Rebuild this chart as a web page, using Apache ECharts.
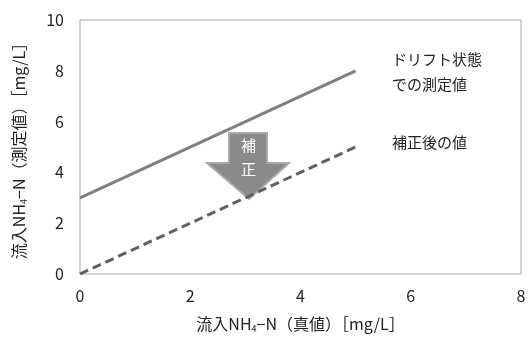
<!DOCTYPE html>
<html><head><meta charset="utf-8">
<script src="https://cdn.jsdelivr.net/npm/echarts@6/dist/echarts.min.js"></script>
<style>html,body{margin:0;padding:0;background:#fff}#c{width:530px;height:338px}</style>
</head><body><div id="c"></div>
<script>
var xTrue = [0, 5];
var measured = [3, 8];
var corrected = [0, 5];
var xTicks = [0, 2, 4, 6, 8];
var yTicks = [0, 2, 4, 6, 8, 10];
var labelDrift = ['ドリフト状態', 'での測定値'];
var labelCorr = '補正後の値';
var arrowText = ['補', '正'];

var F = '"Noto Sans CJK JP", "Noto Sans", sans-serif';
var chart = echarts.init(document.getElementById('c'));
function pairs(xs, ys){ return xs.map(function(x,i){return [x, ys[i]];}); }
var nameRich = {a: {fontSize: 16, color: '#222', fontFamily: F}, s: {fontSize: 9, color: '#222', fontFamily: F, padding: [9,0,0,0]}};
chart.setOption({
  animation: false,
  grid: {left: 80, right: 9, top: 20, bottom: 59, show: true, borderColor: '#a6a6a6', borderWidth: 1},
  xAxis: {type: 'value', min: 0, max: 8, interval: 2,
    axisLine: {show: false}, axisTick: {show: false}, splitLine: {show: false},
    axisLabel: {color: '#222', fontSize: 16, fontFamily: F, margin: 14},
    name: '{a|流入NH}{s|4}{a|−N（真値）［mg/L］}', nameLocation: 'middle', nameGap: 41,
    nameTextStyle: {rich: nameRich}
  },
  yAxis: {type: 'value', min: 0, max: 10, interval: 2,
    axisLine: {show: false}, axisTick: {show: false}, splitLine: {show: false},
    axisLabel: {color: '#222', fontSize: 16, fontFamily: F, margin: 16},
    name: '{a|流入NH}{s|4}{a|−N（測定値）［mg/L］}', nameLocation: 'middle', nameGap: 52,
    nameTextStyle: {rich: nameRich}
  },
  series: [
    {type: 'line', data: pairs(xTrue, measured), symbol: 'none', lineStyle: {color: '#7f7f7f', width: 3}},
    {type: 'line', data: pairs(xTrue, corrected), symbol: 'none', lineStyle: {color: '#606060', width: 3, type: [9, 5]}}
  ]
});

chart.setOption({graphic: [
  {type: 'polygon', shape: {points: [[229,133],[267,133],[267,163],[289,163],[249,199],[207,163],[229,163]]},
   style: {fill: '#8a8a8a', stroke: '#a8a8a8', lineWidth: 2}},
  {type: 'text', left: 241, top: 138, style: {text: arrowText[0], fill: '#fff', font: '15px ' + F}},
  {type: 'text', left: 241, top: 162, style: {text: arrowText[1], fill: '#fff', font: '15px ' + F}},
  {type: 'text', left: 392, top: 52, style: {text: labelDrift[0], fill: '#222', font: '15px ' + F}},
  {type: 'text', left: 392, top: 77, style: {text: labelDrift[1], fill: '#222', font: '15px ' + F}},
  {type: 'text', left: 392, top: 135, style: {text: labelCorr, fill: '#222', font: '15px ' + F}}
]});
</script></body></html>
